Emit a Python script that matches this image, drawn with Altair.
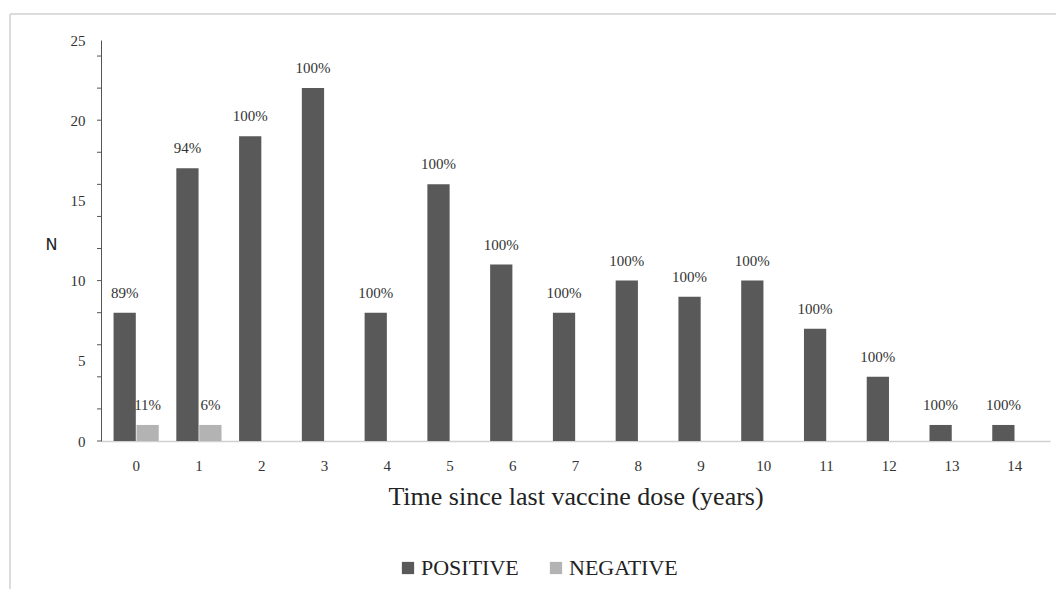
import altair as alt
import pandas as pd

categories = [str(i) for i in range(15)]
positive = [8, 17, 19, 22, 8, 16, 11, 8, 10, 9, 10, 7, 4, 1, 1]
negative = [1, 1, 0, 0, 0, 0, 0, 0, 0, 0, 0, 0, 0, 0, 0]
positive_pct = ["89%", "94%", "100%", "100%", "100%", "100%", "100%", "100%",
                "100%", "100%", "100%", "100%", "100%", "100%", "100%"]
negative_pct = ["11%", "6%", "", "", "", "", "", "", "", "", "", "", "", "", ""]
series = ["POSITIVE", "NEGATIVE"]
colors = ["#595959", "#b3b3b3"]
y_label_values = [0, 5, 10, 15, 20, 25]
y_tick_values = [0, 2, 4, 6, 8, 10, 12, 14, 16, 18, 20, 22, 24]

rows = []
for c, p, n, pp, nn in zip(categories, positive, negative, positive_pct, negative_pct):
    rows.append({"cat": c, "series": "POSITIVE", "value": p, "label": pp})
    rows.append({"cat": c, "series": "NEGATIVE", "value": n, "label": nn})
df = pd.DataFrame(rows)
ticks_df = pd.DataFrame({"value": y_tick_values})

FONT = "Liberation Serif"

x_enc = alt.X("cat:N", sort=categories,
              scale=alt.Scale(paddingInner=0.28),
              axis=alt.Axis(title="Time since last vaccine dose (years)", labelAngle=0,
                            ticks=False, domainColor="#d0d0d0", domainWidth=1.5,
                            labelFont=FONT, labelFontSize=15, labelColor="#333333",
                            labelPadding=17, titleFont=FONT, titleFontSize=26,
                            titleFontWeight="normal", titleColor="#222222",
                            titlePadding=10))
xoff = alt.XOffset("series:N", sort=series, scale=alt.Scale(paddingInner=0.03))
y_scale = alt.Scale(domain=[0, 25], nice=False)
y_axis = alt.Axis(values=y_label_values, title="N",
                  labelOverlap=False, grid=False, ticks=False,
                  domainColor="#555555",
                  labelFont=FONT, labelFontSize=15, labelColor="#333333",
                  labelPadding=16,
                  titleAngle=0, titleFont="DejaVu Sans", titleFontSize=16,
                  titleFontWeight="normal", titleColor="#222222",
                  titleX=-50, titleY=204, titleAlign="center", titleBaseline="middle")

base = alt.Chart(df)

bars = base.mark_bar().encode(
    x=x_enc,
    xOffset=xoff,
    y=alt.Y("value:Q", scale=y_scale, axis=y_axis, title="N"),
    color=alt.Color("series:N", sort=series,
                    scale=alt.Scale(domain=series, range=colors),
                    legend=alt.Legend(title=None, orient="none", direction="horizontal",
                                      legendX=296, legendY=517, symbolType="square",
                                      symbolSize=150, symbolStrokeWidth=0,
                                      labelFont=FONT, labelFontSize=22, labelColor="#222222",
                                      columnPadding=26, labelOffset=2)),
)

texts = base.mark_text(baseline="bottom", dy=-12, font=FONT, fontSize=15, color="#333333").encode(
    x=alt.X("cat:N", sort=categories),
    xOffset=xoff,
    y=alt.Y("value:Q", scale=y_scale, axis=y_axis, title="N"),
    text="label:N",
)

yticks = alt.Chart(ticks_df).mark_rule(color="#555555", strokeWidth=1).encode(
    y=alt.Y("value:Q", scale=y_scale, axis=y_axis, title="N"),
    x=alt.value(-4), x2=alt.value(0),
)

frame_top = alt.Chart(pd.DataFrame({"a": [0]})).mark_rule(color="#dcdcdc", strokeWidth=2).encode(
    x=alt.value(-91), x2=alt.value(1000), y=alt.value(-26))
frame_left = alt.Chart(pd.DataFrame({"a": [0]})).mark_rule(color="#dcdcdc", strokeWidth=2).encode(
    x=alt.value(-91), y=alt.value(-26), y2=alt.value(560))

chart = alt.layer(bars, texts, yticks, frame_top, frame_left).properties(
    width=949, height=401,
    padding={"left": 93, "top": 32, "right": 6, "bottom": 148},
    autosize=alt.AutoSizeParams(type="none"),
    background="white",
).configure_view(stroke=None)

chart.save("out.html", embed_options={"renderer": "svg", "actions": False})
